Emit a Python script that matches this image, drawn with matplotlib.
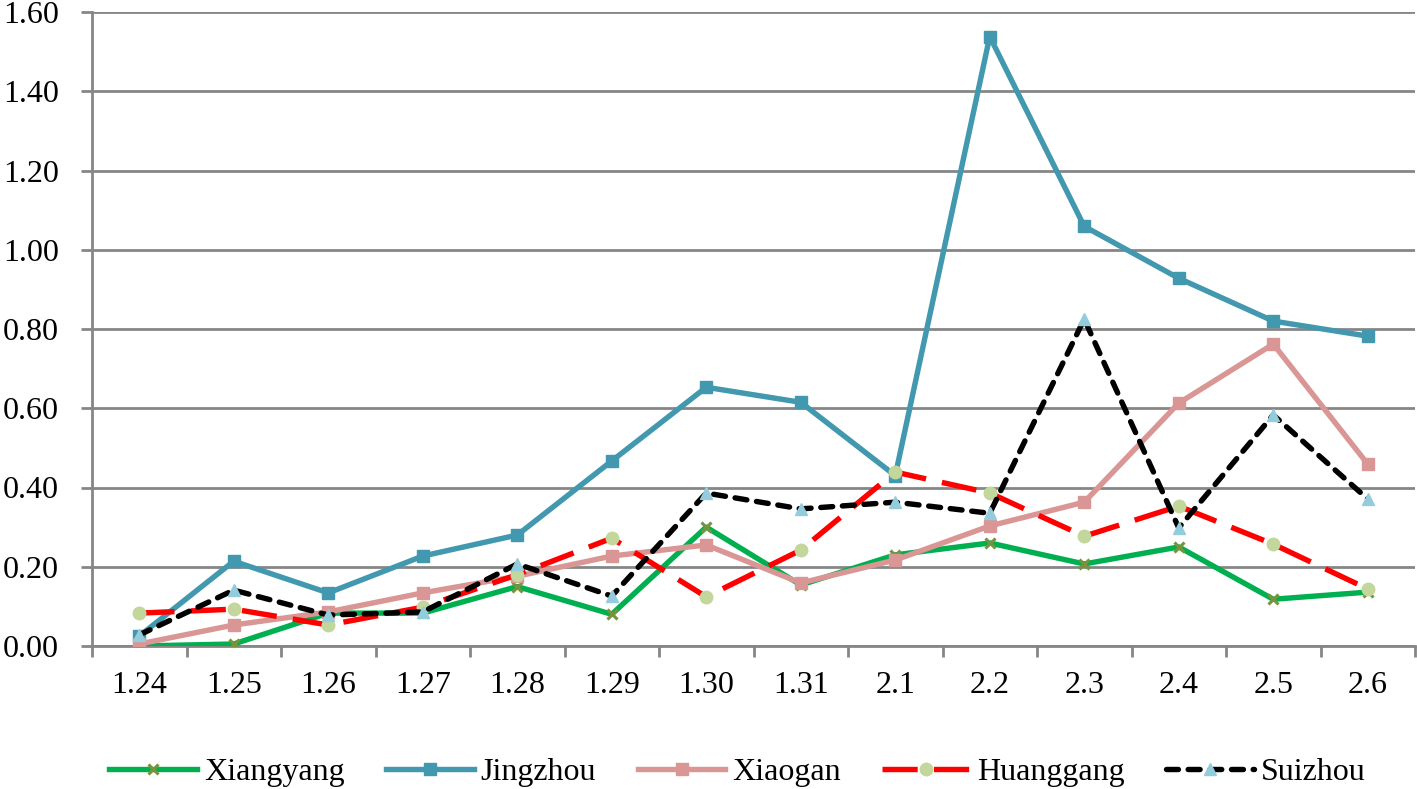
import matplotlib
matplotlib.use("Agg")
import matplotlib.pyplot as plt
import numpy as np

categories = ["1.24", "1.25", "1.26", "1.27", "1.28", "1.29", "1.30", "1.31",
              "2.1", "2.2", "2.3", "2.4", "2.5", "2.6"]
xiangyang = [0.00, 0.005, 0.083, 0.083, 0.150, 0.080, 0.300, 0.154, 0.230, 0.260, 0.207, 0.250, 0.118, 0.136]
jingzhou = [0.025, 0.214, 0.134, 0.227, 0.280, 0.467, 0.653, 0.615, 0.430, 1.538, 1.059, 0.928, 0.820, 0.782]
xiaogan = [0.005, 0.053, 0.086, 0.134, 0.176, 0.227, 0.255, 0.159, 0.217, 0.303, 0.363, 0.613, 0.762, 0.459]
huanggang = [0.083, 0.093, 0.053, 0.098, 0.180, 0.272, 0.124, 0.242, 0.439, 0.386, 0.277, 0.353, 0.257, 0.144]
suizhou = [0.028, 0.141, 0.078, 0.086, 0.207, 0.126, 0.386, 0.346, 0.363, 0.335, 0.825, 0.298, 0.583, 0.371]
y_ticks = [0.0, 0.2, 0.4, 0.6, 0.8, 1.0, 1.2, 1.4, 1.6]

plt.rcParams['font.family'] = ['Liberation Serif', 'DejaVu Serif']

fig = plt.figure(figsize=(14.17, 7.89), dpi=100)
ax = fig.add_axes([92/1417, 1 - 646/789, (1415 - 92)/1417, (646 - 12)/789])

x = np.arange(len(categories))
lw = 3.9
ax.plot(x, xiangyang, color='#00B050', lw=lw, marker='x', ms=7, mew=2.2,
        mec='#77933C', label='Xiangyang', zorder=3)
ax.plot(x, jingzhou, color='#4198AF', lw=lw, marker='s', ms=9,
        mfc='#4198AF', mec='#4198AF', label='Jingzhou', zorder=3)
ax.plot(x, xiaogan, color='#D99694', lw=lw, marker='s', ms=9,
        mfc='#D99694', mec='#D99694', label='Xiaogan', zorder=3)
ax.plot(x, huanggang, color='#FF0000', lw=lw, dashes=(6.5, 3.0), marker='o', ms=9,
        mfc='#C3D69B', mec='#C3D69B', label='Huanggang', zorder=3)
ax.plot(x, suizhou, color='#000000', lw=lw, dashes=(2.2, 1.8), marker='^', ms=9,
        dash_capstyle='round',
        mfc='#93CDDD', mec='#93CDDD', label='Suizhou', zorder=3)

ax.set_xlim(-0.5, len(categories) - 0.5)
ax.set_ylim(0, 1.6)
ax.set_yticks(y_ticks)
ax.set_yticklabels([f"{v:.2f}" for v in y_ticks], fontsize=23)
ax.set_xticks(x)
ax.set_xticklabels(categories, fontsize=23)
ax.set_xticks(np.arange(len(categories) + 1) - 0.5, minor=True)
ax.tick_params(axis='x', which='major', length=0, pad=18)
ax.tick_params(axis='x', which='minor', length=8, width=2, color='#868686', direction='out')
ax.tick_params(axis='y', length=8, width=2, color='#868686', direction='out', pad=16)

ax.yaxis.grid(True, color='#868686', lw=2)
ax.set_axisbelow(True)
for s in ['top', 'right']:
    ax.spines[s].set_visible(False)
for s in ['left', 'bottom']:
    ax.spines[s].set_color('#868686')
    ax.spines[s].set_linewidth(2)

fig.legend(loc='center', ncol=5, frameon=False, fontsize=23,
           bbox_to_anchor=(737.5/1417, 1 - 772/789), handlelength=2.74,
           columnspacing=1.3, handletextpad=0.22, borderpad=0, borderaxespad=0)

fig.savefig("out.png", dpi=100)
